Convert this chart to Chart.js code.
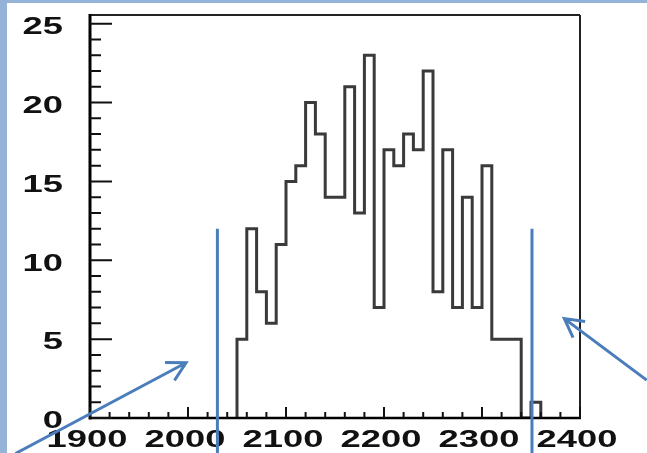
<!DOCTYPE html>
<html>
<head>
<meta charset="utf-8">
<script src="https://cdn.jsdelivr.net/npm/chart.js@4.4.1/dist/chart.umd.min.js"></script>
<style>
  html, body { margin: 0; padding: 0; background: #fff; }
  #wrap { position: relative; width: 647px; height: 453px; overflow: hidden; }
  .edge { position: absolute; background: #95b3d7; }
  #edgeLeft { left: 0; top: 0; width: 7px; height: 453px; }
  #edgeTop { left: 0; top: 0; width: 647px; height: 3px; }
  canvas { position: absolute; left: 0; top: 0; }
</style>
</head>
<body>
<div id="wrap">
  <div class="edge" id="edgeLeft"></div>
  <div class="edge" id="edgeTop"></div>
  <canvas id="histo" width="647" height="453"></canvas>
</div>
<script>
// histogram: 10-wide bins starting at 2050
const binStart = 2050
const binWidth = 10
const counts = [5, 12, 8, 6, 11, 15, 16, 20, 18, 14, 14, 21, 13, 23, 7, 17,
                16, 18, 17, 22, 8, 17, 7, 14, 7, 16, 5, 5, 5, 0, 1]

// axes
const xRange = [1900, 2400]
const yRange = [0, 25.55]
const xLabelStep = 100
const xMinorStep = 20
const yLabelStep = 5
const yMinorStep = 1

// blue cut lines (x values) and their top (y value)
const cutLines = [2030, 2351]
const cutTop = 12

// annotation arrows, [tailX, tailY, headX, headY] in data units
const arrows = [
  [1824, -2.25, 1998, 3.5],
  [2468, 2.4, 2384, 6.3]
]

const points = [{x: binStart, y: 0}]
for (var i = 0; i < counts.length; i++) {
  points.push({x: binStart + i * binWidth, y: counts[i]})
}
points.push({x: binStart + counts.length * binWidth, y: 0})

const labelFont = 'bold 23px "Liberation Sans", Arial, sans-serif'
const stretch = 1.58

function stretchedText(ctx, text, x, y, align) {
  ctx.save()
  ctx.translate(x, y)
  ctx.scale(stretch, 1)
  ctx.textAlign = align
  ctx.textBaseline = 'middle'
  ctx.fillText(text, 0, 0)
  ctx.restore()
}

const rootAxes = {
  id: 'rootAxes',
  afterDatasetsDraw(chart) {
    const ctx = chart.ctx
    const a = chart.chartArea
    const xs = chart.scales.x
    const ys = chart.scales.y
    ctx.save()

    // frame
    ctx.strokeStyle = '#222'
    ctx.lineWidth = 2
    ctx.beginPath()
    ctx.moveTo(a.left, a.top); ctx.lineTo(a.right, a.top)
    ctx.moveTo(a.right, a.top); ctx.lineTo(a.right, a.bottom)
    ctx.stroke()
    ctx.strokeStyle = '#000'
    ctx.lineWidth = 3
    ctx.beginPath()
    ctx.moveTo(a.left, a.top - 1); ctx.lineTo(a.left, a.bottom + 1.5)
    ctx.stroke()
    ctx.lineWidth = 2.5
    ctx.beginPath()
    ctx.moveTo(a.left, a.bottom); ctx.lineTo(a.right + 1, a.bottom)
    ctx.stroke()

    // inward ticks
    ctx.lineWidth = 2
    ctx.strokeStyle = '#111'
    ctx.beginPath()
    ys.ticks.forEach(t => {
      if (Math.abs(t.value % yMinorStep) > 1e-6) return
      const y = ys.getPixelForValue(t.value)
      const len = t.value % yLabelStep === 0 ? 22 : 11
      ctx.moveTo(a.left, y); ctx.lineTo(a.left + len, y)
    })
    xs.ticks.forEach(t => {
      const x = xs.getPixelForValue(t.value)
      const len = t.value % xLabelStep === 0 ? 11 : 6
      ctx.moveTo(x, a.bottom); ctx.lineTo(x, a.bottom - len)
    })
    ctx.stroke()

    // labels
    ctx.fillStyle = '#111'
    ctx.font = labelFont
    ys.ticks.forEach(t => {
      if (t.value % yLabelStep !== 0) return
      stretchedText(ctx, String(t.value), 63, ys.getPixelForValue(t.value) + 4, 'right')
    })
    xs.ticks.forEach(t => {
      if (t.value % xLabelStep !== 0) return
      stretchedText(ctx, String(t.value), xs.getPixelForValue(t.value) - 3, a.bottom + 23, 'center')
    })

    // cut lines
    ctx.strokeStyle = '#4a7ebb'
    ctx.lineWidth = 3
    ctx.beginPath()
    cutLines.forEach(v => {
      const x = xs.getPixelForValue(v)
      ctx.moveTo(x, ys.getPixelForValue(cutTop)); ctx.lineTo(x, chart.height)
    })
    ctx.stroke()

    // arrows
    arrows.forEach(ar => {
      const x0 = xs.getPixelForValue(ar[0]), y0 = ys.getPixelForValue(ar[1])
      const x1 = xs.getPixelForValue(ar[2]), y1 = ys.getPixelForValue(ar[3])
      const ang = Math.atan2(y0 - y1, x0 - x1)
      const head = 21
      ctx.beginPath()
      ctx.moveTo(x0, y0); ctx.lineTo(x1, y1)
      ctx.moveTo(x1 + head * Math.cos(ang + 0.5), y1 + head * Math.sin(ang + 0.5))
      ctx.lineTo(x1, y1)
      ctx.lineTo(x1 + head * Math.cos(ang - 0.5), y1 + head * Math.sin(ang - 0.5))
      ctx.stroke()
    })
    ctx.restore()
  }
}

new Chart(document.getElementById('histo'), {
  type: 'line',
  data: {
    datasets: [{
      data: points,
      stepped: 'before',
      borderColor: '#3a3a3a',
      borderWidth: 3,
      pointRadius: 0,
      fill: false
    }]
  },
  options: {
    responsive: false,
    devicePixelRatio: 1,
    animation: false,
    layout: { padding: { top: 15, right: 67, left: 0, bottom: 0 } },
    plugins: { legend: { display: false }, tooltip: { enabled: false } },
    scales: {
      x: {
        type: 'linear',
        min: xRange[0],
        max: xRange[1],
        ticks: { display: false, stepSize: xMinorStep },
        grid: { display: false },
        border: { display: false },
        afterFit: s => { s.height = 35 }
      },
      y: {
        min: yRange[0],
        max: yRange[1],
        ticks: { display: false, stepSize: yMinorStep, includeBounds: false },
        grid: { display: false },
        border: { display: false },
        afterFit: s => { s.width = 90 }
      }
    }
  },
  plugins: [rootAxes]
})
</script>
</body>
</html>
